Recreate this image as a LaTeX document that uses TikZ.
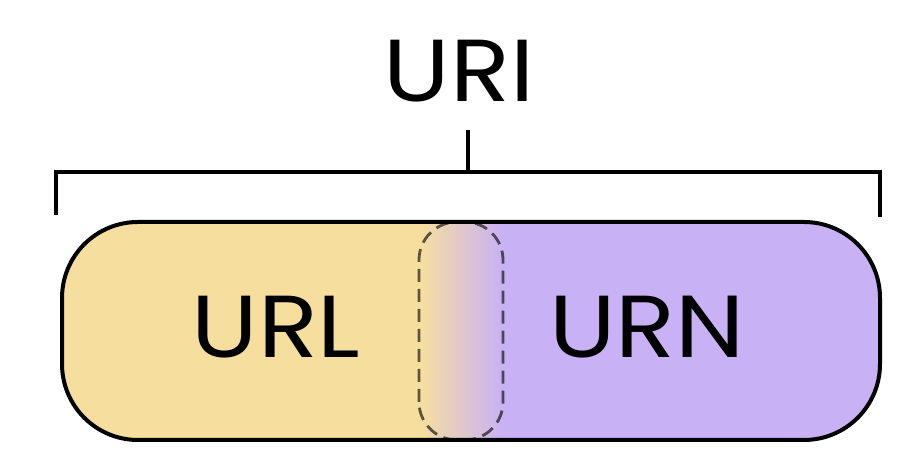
\documentclass[tikz,border=0pt]{standalone}
\usepackage{fontspec}
\setmainfont{Poppins}[FakeStretch=1.12]
\definecolor{urlyellow}{HTML}{F6DF9E}
\definecolor{urnpurple}{HTML}{C9B1F6}
\begin{document}
\begin{tikzpicture}[x=1pt,y=1pt,
  lbl/.style={font=\fontsize{88}{88}\selectfont, text=black, inner sep=0pt, anchor=base},
  brk/.style={line width=4pt, line cap=butt, line join=miter},
  pill/.style={line width=4pt, rounded corners=76pt},
  overlap/.style={dashed, dash pattern=on 13pt off 7pt, line width=2.8pt, draw=black, draw opacity=0.62, rounded corners=38pt}]
\useasboundingbox (0,0) rectangle (921,470);
% bracket
\draw[brk] (56,255) -- (56,298) -- (880,298) -- (880,253);
\coordinate (tickbot) at (468,298);
\node[lbl] (uri) at (459,368) {URI};
\draw[brk] (tickbot) -- (468,340);
% pill fill
\begin{scope}
  \clip[rounded corners=76pt] (62,30) rectangle (880,248);
  \fill[urlyellow] (62,30) rectangle (421,248);
  \fill[urnpurple] (502,30) rectangle (880,248);
  \shade[left color=urlyellow, right color=urnpurple] (420,30) rectangle (503,248);
\end{scope}
\draw[overlap] (419,30) rectangle (503,248);
\draw[pill] (62,30) rectangle (880,248);
\node[lbl] (url) at (276,112) {URL};
\node[lbl] (urn) at (647,112) {URN};
\end{tikzpicture}
\end{document}
